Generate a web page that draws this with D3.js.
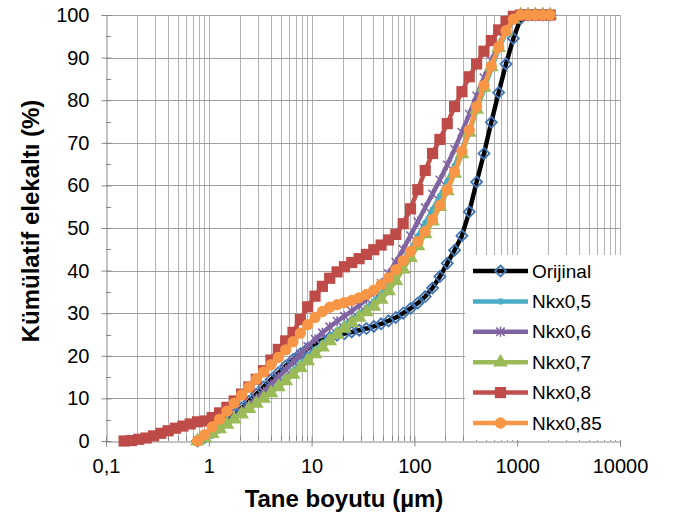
<!DOCTYPE html>
<html>
<head>
<meta charset="utf-8">
<script src="https://cdn.jsdelivr.net/npm/d3@7"></script>
<style>
  body { margin: 0; background: #fff; }
  svg { font-family: "Liberation Sans", Arial, sans-serif; }
  .tick-label { font-size: 20px; fill: #000; }
  .axis-title { font-size: 24px; font-weight: bold; fill: #000; }
  .legend-label { font-size: 19px; fill: #000; }
</style>
</head>
<body>
<div id="chart"></div>
<script>
// particle sizes (µm)
var sizes = [0.15, 0.177, 0.208, 0.246, 0.29, 0.341, 0.402, 0.474, 0.559, 0.659,
  0.777, 0.915, 1.079, 1.272, 1.5, 1.768, 2.084, 2.457, 2.896, 3.414,
  4.025, 4.745, 5.593, 6.594, 7.773, 9.163, 10.8, 12.73, 15.0, 17.69,
  20.85, 24.58, 28.97, 34.15, 40.26, 47.46, 55.95, 65.96, 77.75, 91.66,
  108.1, 127.4, 150.2, 177.0, 208.7, 246.0, 290.0, 341.8, 403.0, 475.0,
  560.0, 660.1, 778.2, 917.3, 1081, 1275, 1503, 1772, 2089];

// cumulative passing (%), null = no measurement
var orijinal = [null, null, null, null, null, null, null, null, null, null,
  0, 0.9, 2.0, 3.3, 4.7, 6.2, 7.7, 9.3, 11.0, 12.7,
  14.4, 16.0, 17.6, 19.1, 20.5, 21.7, 22.8, 23.7, 24.3, 24.8,
  25.2, 25.6, 26.0, 26.4, 26.9, 27.5, 28.2, 29.0, 30.0, 31.1,
  32.4, 33.9, 35.9, 38.6, 41.7, 44.8, 48.2, 53.8, 60.8, 67.5,
  74.8, 81.8, 88.5, 94.5, 99.2, 100, 100, 100, 100];
var nkx05 = [null, null, null, null, null, null, null, null, null, null,
  0, 0.8, 1.9, 3.0, 4.2, 5.4, 6.7, 8.0, 9.3, 10.6,
  12.0, 13.4, 14.9, 16.5, 18.1, 19.7, 21.3, 22.9, 24.4, 25.9,
  27.3, 28.6, 29.9, 31.3, 32.8, 34.6, 36.7, 39.2, 42.0, 45.0,
  48.1, 51.2, 54.3, 57.5, 60.9, 64.6, 68.6, 73.0, 77.6, 82.5,
  87.3, 91.9, 95.9, 98.8, 100, 100, 100, 100, 100];
var nkx06 = [null, null, null, null, null, null, null, null, null, null,
  0, 0.8, 1.9, 3.0, 4.3, 5.6, 7.0, 8.5, 10.0, 11.6,
  13.3, 15.0, 16.8, 18.6, 20.4, 22.2, 23.9, 25.4, 26.8, 28.1,
  29.3, 30.5, 31.8, 33.3, 35.0, 37.0, 39.3, 42.0, 45.0, 48.2,
  51.5, 54.8, 58.0, 61.3, 64.8, 68.5, 72.5, 76.7, 81.0, 85.3,
  89.3, 93.0, 96.4, 99.0, 100, 100, 100, 100, 100];
var nkx07 = [null, null, null, null, null, null, null, null, null, null,
  0, 0.7, 1.7, 2.8, 3.9, 5.1, 6.3, 7.6, 8.8, 10.0,
  11.3, 12.7, 14.1, 15.6, 17.2, 18.8, 20.4, 22.0, 23.5, 25.0,
  26.4, 27.7, 29.0, 30.3, 31.6, 33.2, 35.2, 37.6, 40.3, 43.0,
  45.8, 48.6, 51.6, 55.0, 58.7, 62.8, 67.4, 72.4, 77.8, 83.0,
  87.8, 92.3, 96.2, 99.0, 100, 100, 100, 100, 100];
var nkx08 = [0, 0.1, 0.4, 0.7, 1.2, 1.8, 2.4, 3.0, 3.5, 4.0,
  4.5, 4.7, 5.5, 6.6, 7.9, 9.4, 11.0, 12.7, 14.5, 16.5,
  19.0, 21.5, 23.5, 25.5, 28.5, 31.5, 34.0, 36.3, 38.2, 39.7,
  40.9, 41.9, 42.8, 43.8, 44.9, 46.0, 47.2, 48.5, 51.0, 54.5,
  59.0, 63.5, 67.5, 70.8, 74.5, 78.5, 82.0, 85.5, 88.5, 91.5,
  94.0, 96.5, 98.5, 99.7, 100, 100, 100, 100, 100];
var nkx085 = [null, null, null, null, null, null, null, null, null, null,
  0, 1.5, 3.3, 5.1, 7.0, 8.9, 10.8, 12.7, 14.5, 16.2,
  17.9, 19.6, 21.4, 23.3, 25.3, 27.3, 29.0, 30.4, 31.4, 32.0,
  32.5, 33.0, 33.6, 34.4, 35.4, 36.7, 38.3, 40.2, 42.3, 44.5,
  46.8, 49.2, 52.0, 55.3, 59.0, 63.2, 68.0, 73.0, 78.5, 83.5,
  88.0, 92.5, 96.3, 99.0, 100, 100, 100, 100, 100];

var seriesNames = ["Orijinal", "Nkx0,5", "Nkx0,6", "Nkx0,7", "Nkx0,8", "Nkx0,85"];
var xTicks = [0.1, 1, 10, 100, 1000, 10000];
var xTickLabels = ["0,1", "1", "10", "100", "1000", "10000"];
var yTicks = [0, 10, 20, 30, 40, 50, 60, 70, 80, 90, 100];

var W = 678, H = 518;
var pLeft = 106, pRight = 620, pTop = 15, pBottom = 441;

var svg = d3.select("#chart").append("svg")
    .attr("width", W)
    .attr("height", H);

var x = d3.scaleLog().domain([0.1, 10000]).range([pLeft, pRight]);
var y = d3.scaleLinear().domain([0, 100]).range([pBottom, pTop]);

// minor decade values 2..9
var minorX = [];
xTicks.slice(0, -1).forEach(function (d) {
    for (var k = 2; k <= 9; k++) minorX.push(d * k);
});

// vertical gridlines
svg.append("g").selectAll("line")
    .data(minorX.concat(xTicks.slice(1)))
    .enter().append("line")
    .attr("x1", function (d) { return Math.round(x(d)) + 0.5; })
    .attr("x2", function (d) { return Math.round(x(d)) + 0.5; })
    .attr("y1", pTop)
    .attr("y2", pBottom)
    .attr("stroke", "#b2b2b2")
    .attr("stroke-width", 1);

// horizontal gridlines
svg.append("g").selectAll("line")
    .data(yTicks.slice(1))
    .enter().append("line")
    .attr("x1", pLeft)
    .attr("x2", pRight)
    .attr("y1", function (d) { return Math.round(y(d)) + 0.5; })
    .attr("y2", function (d) { return Math.round(y(d)) + 0.5; })
    .attr("stroke", "#a0a0a0")
    .attr("stroke-width", 1.2);

// y axis
var yAxis = d3.axisLeft(y).tickValues(yTicks).tickSize(5).tickPadding(12)
    .tickFormat(function (d) { return d; });
var gy = svg.append("g")
    .attr("transform", "translate(" + (pLeft + 0.5) + ",0)")
    .call(yAxis);
gy.selectAll("line").attr("stroke", "#868686").attr("x2", -5).attr("x1", 5);
gy.select(".domain").attr("stroke", "#868686");
gy.selectAll("text").attr("class", "tick-label").attr("font-size", null).attr("font-family", null);
// minor y ticks
svg.append("g").selectAll("line")
    .data(d3.range(5, 100, 10))
    .enter().append("line")
    .attr("x1", pLeft)
    .attr("x2", pLeft + 5)
    .attr("y1", function (d) { return Math.round(y(d)) + 0.5; })
    .attr("y2", function (d) { return Math.round(y(d)) + 0.5; })
    .attr("stroke", "#868686");

// x axis
var xAxis = d3.axisBottom(x).tickValues(xTicks).tickSize(5).tickPadding(12)
    .tickFormat(function (d, i) { return xTickLabels[i]; });
var gx = svg.append("g")
    .attr("transform", "translate(0," + (pBottom + 0.5) + ")")
    .call(xAxis);
gx.selectAll("line").attr("stroke", "#868686").attr("y1", -5).attr("y2", 5);
gx.select(".domain").attr("stroke", "#868686");
gx.selectAll("text").attr("class", "tick-label").attr("font-size", null).attr("font-family", null);
svg.append("g").selectAll("line")
    .data(minorX)
    .enter().append("line")
    .attr("x1", function (d) { return Math.round(x(d)) + 0.5; })
    .attr("x2", function (d) { return Math.round(x(d)) + 0.5; })
    .attr("y1", pBottom - 5)
    .attr("y2", pBottom)
    .attr("stroke", "#868686");

// axis titles
svg.append("text")
    .attr("class", "axis-title")
    .attr("x", 344)
    .attr("y", 507)
    .attr("text-anchor", "middle")
    .text("Tane boyutu (µm)");
svg.append("text")
    .attr("class", "axis-title")
    .attr("transform", "translate(39,221) rotate(-90)")
    .attr("text-anchor", "middle")
    .text("Kümülatif elekaltı (%)");

// marker shapes
function diamond(s) {
    return "M0," + (-s) + "L" + s + ",0L0," + s + "L" + (-s) + ",0Z";
}
function asterisk(s) {
    return "M" + (-s) + "," + (-s) + "L" + s + "," + s +
        "M" + (-s) + "," + s + "L" + s + "," + (-s) +
        "M0," + (-s * 1.2) + "L0," + (s * 1.2);
}

var series = [
    { name: seriesNames[0], values: orijinal, line: "#000000", stroke: "#3f73b4", fill: "none",
      marker: diamond(5.5), sw: 1.8 },
    { name: seriesNames[1], values: nkx05, line: "#4bacc6", stroke: "#4bacc6", fill: "#4bacc6",
      marker: d3.symbol(d3.symbolCircle, 30)(), sw: 0 },
    { name: seriesNames[2], values: nkx06, line: "#8064a2", stroke: "#8064a2", fill: "none",
      marker: asterisk(4.2), sw: 1.5 },
    { name: seriesNames[3], values: nkx07, line: "#9bbb59", stroke: "#9bbb59", fill: "#9bbb59",
      marker: d3.symbol(d3.symbolTriangle, 95)(), sw: 0 },
    { name: seriesNames[4], values: nkx08, line: "#c0504d", stroke: "#c0504d", fill: "#be4b48",
      marker: d3.symbol(d3.symbolSquare, 125)(), sw: 0 },
    { name: seriesNames[5], values: nkx085, line: "#f79646", stroke: "#f79646", fill: "#f79646",
      marker: d3.symbol(d3.symbolCircle, 100)(), sw: 0 }
];

var line = d3.line()
    .defined(function (d) { return d.v !== null; })
    .x(function (d) { return x(d.s); })
    .y(function (d) { return y(d.v); });

series.forEach(function (ser) {
    var pts = sizes.map(function (s, i) { return { s: s, v: ser.values[i] }; });
    var g = svg.append("g");
    g.append("path")
        .datum(pts)
        .attr("fill", "none")
        .attr("stroke", ser.line)
        .attr("stroke-width", 4.5)
        .attr("stroke-linejoin", "round")
        .attr("d", line);
    g.selectAll("path.mk")
        .data(pts.filter(function (d) { return d.v !== null; }))
        .enter().append("path")
        .attr("class", "mk")
        .attr("transform", function (d) { return "translate(" + x(d.s) + "," + y(d.v) + ")"; })
        .attr("d", ser.marker)
        .attr("fill", ser.fill)
        .attr("stroke", ser.stroke)
        .attr("stroke-width", ser.sw);
});

// legend
var legend = svg.append("g");
legend.append("rect")
    .attr("x", 465).attr("y", 255)
    .attr("width", 156).attr("height", 185)
    .attr("fill", "#fff");
var item = legend.selectAll("g.item")
    .data(series)
    .enter().append("g")
    .attr("class", "item")
    .attr("transform", function (d, i) { return "translate(0," + (271 + i * 30.4) + ")"; });
item.append("line")
    .attr("x1", 473).attr("x2", 528)
    .attr("stroke", function (d) { return d.line; })
    .attr("stroke-width", 4.5);
item.append("path")
    .attr("transform", "translate(500.5,0)")
    .attr("d", function (d) { return d.marker; })
    .attr("fill", function (d) { return d.fill; })
    .attr("stroke", function (d) { return d.stroke; })
    .attr("stroke-width", function (d) { return d.sw; });
item.append("text")
    .attr("class", "legend-label")
    .attr("x", 532)
    .attr("dy", "0.35em")
    .text(function (d) { return d.name; });
</script>
</body>
</html>
